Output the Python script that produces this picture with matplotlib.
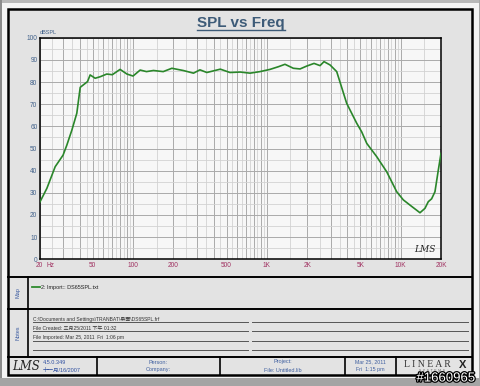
import matplotlib.pyplot as plt
import matplotlib.patches as patches
import matplotlib.patheffects as pe
from matplotlib.ticker import FixedLocator, FixedFormatter

plt.rcParams['font.family'] = ['Liberation Sans', 'Noto Sans CJK SC', 'DejaVu Sans']

# courbe SPL
freq = [20, 22.7, 26.2, 30, 32, 34.9, 38, 40.3, 45.7, 47.8, 52.1, 56.9, 63.6, 70,
        80, 90, 100, 113, 126, 142, 168, 195, 237, 283, 316, 356, 449, 530, 633,
        748, 889, 1055, 1218, 1365, 1577, 1770, 1985, 2251, 2496, 2673, 2965, 3325,
        3946, 4690, 5112, 5577, 6621, 7859, 9332, 10462, 12000, 13930, 15180,
        16070, 17020, 18030, 19100, 20000]
spl = [25.5, 32, 41.8, 47, 51.5, 58.3, 65.9, 77.6, 80.2, 83.2, 81.7, 82.4, 83.6, 83.3,
       85.7, 83.6, 82.7, 85.4, 84.7, 85.2, 84.7, 86.2, 85.2, 84.0, 85.5, 84.3, 85.8,
       84.3, 84.5, 84.0, 84.7, 85.7, 86.9, 88.0, 86.2, 85.9, 87.2, 88.4, 87.4, 89.2,
       87.7, 84.7, 70.4, 61.4, 57.5, 52.3, 46.3, 39.5, 30.5, 26.8, 24.0, 21.0, 23.0,
       26.0, 27.3, 30.5, 40.3, 47.8]

freq_ticks = [20, 50, 100, 200, 500, 1000, 2000, 5000, 10000, 20000]
freq_labels = ['20', '50', '100', '200', '500', '1K', '2K', '5K', '10K', '20K']
spl_ticks = list(range(0, 101, 10))

notes = ["C:\\Documents and Settings\\TRANBAT\\桌面\\DS65SPL.frf",
         "File Created: 三月25/2011 下午 01:32",
         "File Imported: Mar 25, 2011  Fri  1:06 pm"]

W, H = 480, 386
fig = plt.figure(figsize=(W / 100, H / 100), dpi=100, facecolor='#f4f4f4')

# fond / cadre en coordonnees pixels
bg = fig.add_axes([0, 0, 1, 1], zorder=0)
bg.set_xlim(0, W)
bg.set_ylim(H, 0)
bg.axis('off')

bg.add_patch(patches.Rectangle((0, 0), W, 2.5, color='#b8b8b8', lw=0))
bg.add_patch(patches.Rectangle((0, 0), 1.5, H, color='#8c8c8c', lw=0))
bg.add_patch(patches.Rectangle((W - 1.5, 0), 1.5, H, color='#a8a8a8', lw=0))
bg.add_patch(patches.Rectangle((0, 378), W, 8, color='#a4a4a4', lw=0))
bg.add_patch(patches.Rectangle((8, 9), 464, 366, facecolor='#e3e3e3',
                               edgecolor='black', lw=1.8))

for y in [277, 309, 357]:
    bg.plot([8, 472], [y, y], color='black', lw=1.4)
bg.plot([28, 28], [277, 357], color='black', lw=1.2)
for x in [97, 220, 345, 396]:
    bg.plot([x, x], [357, 375], color='black', lw=1.2)
for y in [321.5, 331, 340.5, 350]:
    bg.plot([33, 248], [y, y], color='#555555', lw=0.7)
    bg.plot([252, 468], [y, y], color='#555555', lw=0.7)

# titre souligne
title = bg.text(241, 27, "SPL vs Freq", ha='center', va='baseline', fontsize=11,
                fontweight='bold', color='#3d5b78')
fig.canvas.draw()
bb = title.get_window_extent().transformed(bg.transData.inverted())
bg.plot([bb.x0, bb.x1], [29.5, 29.5], color='#3d5b78', lw=1)

# zone Map / Notes
bg.text(18, 293, "Map", rotation=90, ha='center', va='center', fontsize=4,
        color='#3a5aa0')
bg.text(18, 333, "Notes", rotation=90, ha='center', va='center', fontsize=4,
        color='#3a5aa0')
bg.plot([32, 39.5], [287, 287], color='#2e8b2e', lw=1.3)
bg.text(41, 287, "2: Import:: DS65SPL.txt", ha='left', va='center', fontsize=4,
        color='#222222')
for i, line in enumerate(notes):
    bg.text(33, 320.5 + i * 9.5, line, ha='left', va='baseline', fontsize=3.6,
            color='#333333')

# barre du bas
bg.text(26, 366.5, "LMS", ha='center', va='center', fontsize=8.5, fontstyle='italic',
        family='DejaVu Serif', color='#222222')
bg.text(43, 362, "4.5.0.349", ha='left', va='center', fontsize=4, color='#3050a0')
bg.text(43, 370, "十一月/16/2007", ha='left', va='center', fontsize=4, color='#3050a0')
bg.text(158, 362, "Person:", ha='center', va='center', fontsize=4, color='#4060a0')
bg.text(158, 370, "Company:", ha='center', va='center', fontsize=4, color='#4060a0')
bg.text(283, 362, "Project:", ha='center', va='center', fontsize=4, color='#4060a0')
bg.text(283, 370, "File: Untitled.lib", ha='center', va='center', fontsize=4,
        color='#4060a0')
bg.text(370, 362, "Mar 25, 2011", ha='center', va='center', fontsize=3.8,
        color='#4060a0')
bg.text(370, 370, "Fri  1:15 pm", ha='center', va='center', fontsize=3.8,
        color='#4060a0')
bg.text(427, 364.5, "L I N E A R", ha='center', va='center', fontsize=7,
        family='Liberation Serif', color='#333333')
bg.text(463, 364.5, "X", ha='center', va='center', fontsize=8, fontweight='bold',
        color='#222222')
bg.text(432, 370.5, "S  Y  S  T  E  M  S", ha='center', va='center', fontsize=2.3,
        color='#555555')

wm = bg.text(446, 378.5, "#1660965", ha='center', va='center', fontsize=9.5,
             color='white', zorder=5)
wm.set_path_effects([pe.withStroke(linewidth=1.8, foreground='black')])

# graphique
x0, x1, y0, y1 = 39.5, 441, 37.7, 259.3
ax = fig.add_axes([x0 / W, 1 - y1 / H, (x1 - x0) / W, (y1 - y0) / H], zorder=1)
ax.set_facecolor('#f7f7f7')
ax.set_xscale('log')
ax.set_xlim(20, 20000)
ax.set_ylim(0, 100)

major_v = [m * d for d in [10, 100, 1000, 10000] for m in range(1, 10)
           if 20 <= m * d <= 20000]
minor_v = [(m + 0.5) * d for d in [10, 100, 1000, 10000] for m in range(1, 10)
           if 20 <= (m + 0.5) * d <= 20000]
for f in minor_v:
    ax.axvline(f, color='#d2d2d2', lw=0.6, zorder=1)
for f in major_v:
    ax.axvline(f, color='#aaaaaa', lw=0.7, zorder=1)
for v in range(5, 100, 10):
    ax.axhline(v, color='#d2d2d2', lw=0.6, zorder=1)
for v in spl_ticks:
    ax.axhline(v, color='#aaaaaa', lw=0.7, zorder=1)

ax.plot(freq, spl, color='#2a862a', lw=1.2, zorder=3)

ax.xaxis.set_major_locator(FixedLocator(freq_ticks))
ax.xaxis.set_major_formatter(FixedFormatter(freq_labels))
ax.xaxis.set_minor_locator(FixedLocator([]))
ax.set_yticks(spl_ticks)
ax.tick_params(axis='x', length=0, pad=2, labelsize=4.7, labelcolor='#a03060')
ax.tick_params(axis='y', length=0, pad=1.5, labelsize=4.7, labelcolor='#41618a')
for s in ax.spines.values():
    s.set_color('black')
    s.set_linewidth(1.1)

ax.text(24, -1.25, "Hz", ha='center', va='top', fontsize=4.7, color='#a03060',
        clip_on=False)
ax.text(0, 1.01, "dBSPL", ha='left', va='bottom', fontsize=4, color='#41618a',
        transform=ax.transAxes)
ax.text(0.987, 0.025, "LMS", ha='right', va='bottom', fontsize=6.5, fontstyle='italic',
        family='DejaVu Serif', color='#222222', transform=ax.transAxes)

fig.savefig('out.png', dpi=100, facecolor=fig.get_facecolor())
